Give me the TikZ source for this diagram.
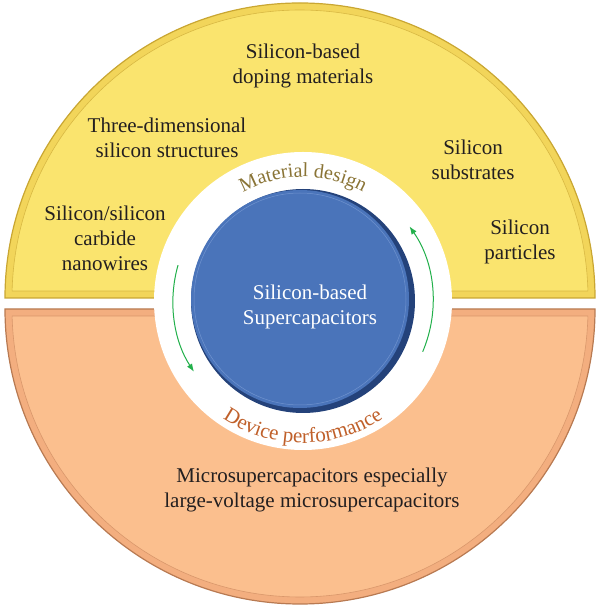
\documentclass[tikz,border=0pt]{standalone}
\usepackage{fontspec}
\setmainfont{Liberation Serif}
\usetikzlibrary{decorations.text,arrows.meta}

\definecolor{yellowfill}{HTML}{FAE46E}
\definecolor{yellowband}{HTML}{F2D55A}
\definecolor{yellowedge}{HTML}{C9A632}
\definecolor{yellowline}{HTML}{D8B843}
\definecolor{orangefill}{HTML}{FBBF8E}
\definecolor{orangeband}{HTML}{F3AE7F}
\definecolor{orangeedge}{HTML}{B87A52}
\definecolor{orangeline}{HTML}{D9976B}
\definecolor{bluefill}{HTML}{4A74BA}
\definecolor{blueedge}{HTML}{24427A}
\definecolor{bluelight}{HTML}{6F93CF}
\definecolor{arrowgreen}{HTML}{22B04B}
\definecolor{designcol}{HTML}{8A7436}
\definecolor{devicecol}{HTML}{C0602A}
\definecolor{inkcol}{HTML}{231F20}

\begin{document}
\begin{tikzpicture}[x=1pt,y=1pt,
   topic/.style={align=center,inner sep=0pt,text=inkcol,font=\fontsize{21}{25}\selectfont},
   turnarrow/.style={draw=arrowgreen,line width=1pt,-{Latex[length=8pt,width=6pt]}}]
   \useasboundingbox (0,0) rectangle (600,610);
   % centres of the two halves and of the hub
   \coordinate (upper) at (300,312);
   \coordinate (lower) at (300,301);
   \coordinate (hub) at (303,309);
   % upper half: material design
   \filldraw [fill=yellowband,draw=yellowedge,line width=1.2pt]
      (upper) ++(180:295) arc (180:0:295) -- cycle;
   \filldraw [fill=yellowfill,draw=yellowline,line width=0.6pt]
      (upper) ++(178.6:288) arc (178.6:1.4:288) -- cycle;
   % lower half: device performance
   \filldraw [fill=orangeband,draw=orangeedge,line width=1.2pt]
      (lower) ++(180:295) arc (180:360:295) -- cycle;
   \filldraw [fill=orangefill,draw=orangeline,line width=0.6pt]
      (lower) ++(181.4:288) arc (181.4:358.6:288) -- cycle;
   % white ring and blue hub
   \fill [white] (hub) circle (149);
   \fill [blueedge] (hub) circle (112);
   \fill [bluefill] (hub) ++(-3,2) circle (109);
   \draw [bluelight,line width=0.5pt] (hub) ++(-3,2) circle (106);
   \node [topic,text=white] (hubtext) at (310,303) {Silicon-based\\Supercapacitors};
   % texts bent round the ring
   \path [decorate,decoration={text along path,text align=center,
      text={|\fontsize{20}{24}\selectfont\color{designcol}|Material design}}]
      (hub) ++(150:124) arc (150:30:124);
   \path [decorate,decoration={text along path,text align=center,
      text={|\fontsize{21}{24}\selectfont\color{devicecol}|Device performance}}]
      (hub) ++(206:142) arc (206:334:142);
   % the two green arrows of the cycle
   \draw [turnarrow] (hub) ++(164:130) arc (164:213:130);
   \draw [turnarrow] (hub) ++(337:130) arc (337:395:130);
   % topics in the two halves
   \node [topic] (doping) at (303,544) {Silicon-based\\doping materials};
   \node [topic] (threed) at (167,472) {Three-dimensional\\silicon structures};
   \node [topic] (wires) at (105,372) {Silicon/silicon\\carbide\\nanowires};
   \node [topic] (substrates) at (473,450) {Silicon\\substrates};
   \node [topic] (particles) at (520,368) {Silicon\\particles};
   \node [topic] (micro) at (312,120) {Microsupercapacitors especially\\large-voltage microsupercapacitors};
\end{tikzpicture}
\end{document}
